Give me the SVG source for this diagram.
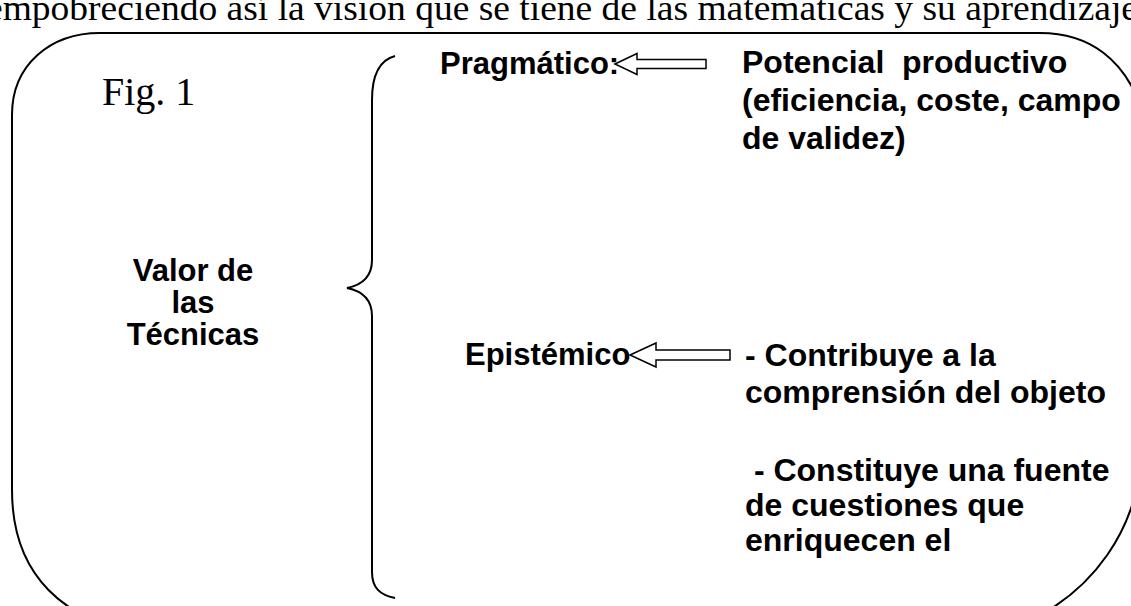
<svg xmlns="http://www.w3.org/2000/svg" width="1131" height="606" viewBox="0 0 1131 606">
<style>
.line{fill:none;stroke:#000;stroke-width:2}
.arrow{fill:#fff;stroke:#000;stroke-width:1.5;stroke-linejoin:miter}
.serif{font-family:"Liberation Serif","Times New Roman",serif;fill:#000}
.bold{font-family:"Liberation Sans",Arial,sans-serif;font-weight:bold;font-size:31px;fill:#000;white-space:pre}
.big{font-size:32px}
</style>
<rect width="1131" height="606" fill="#fff"/>
<text class="serif" x="-14" y="20" font-size="36" textLength="1152" lengthAdjust="spacingAndGlyphs">empobreciendo así la visión que se tiene de las matemáticas y su aprendizaje</text>
<g id="frame">
<path class="line" d="M100 33 L1040 33 C1090 33 1125 60 1142 110 L1142 440 C1142 530 1090 595 1020 625 L130 630 C70 620 12 580 12 490 L12 115 C12 65 50 33 100 33 Z"/>
</g>
<g id="fig">
<text class="serif" x="102" y="105" font-size="40">Fig. 1</text>
</g>
<g id="valor">
<text class="bold" text-anchor="middle"><tspan x="193" y="281">Valor de</tspan><tspan x="193" y="313">las</tspan><tspan x="193" y="345">Técnicas</tspan></text>
</g>
<g id="brace">
<path class="line" d="M395 56 C380 60 372 75 372 100 L372 260 C372 277 362 285 347 288 C362 291 372 299 372 316 L372 572 C372 588 380 595 395 598"/>
</g>
<g id="pragmatico">
<text class="bold" x="440" y="74">Pragmático:</text>
</g>
<g id="potencial">
<text class="bold big"><tspan x="742" y="73">Potencial  productivo</tspan><tspan x="742" y="111">(eficiencia, coste, campo</tspan><tspan x="742" y="149">de validez)</tspan></text>
</g>
<g id="epistemico">
<text class="bold" x="465" y="365">Epistémico</text>
</g>
<g id="contribuye">
<text class="bold big"><tspan x="745" y="366">- Contribuye a la</tspan><tspan x="745" y="403">comprensión del objeto</tspan><tspan x="745" y="481"> - Constituye una fuente</tspan><tspan x="745" y="516">de cuestiones que</tspan><tspan x="745" y="551">enriquecen el</tspan></text>
</g>
<g id="connectors">
<path class="arrow" d="M615 64 L637 53.5 L637 59.5 L706 59.5 L706 68.5 L637 68.5 L637 74.5 Z"/>
<path class="arrow" d="M630 355 L656 343 L656 350 L730 350 L730 360 L656 360 L656 367 Z"/>
</g>
</svg>
